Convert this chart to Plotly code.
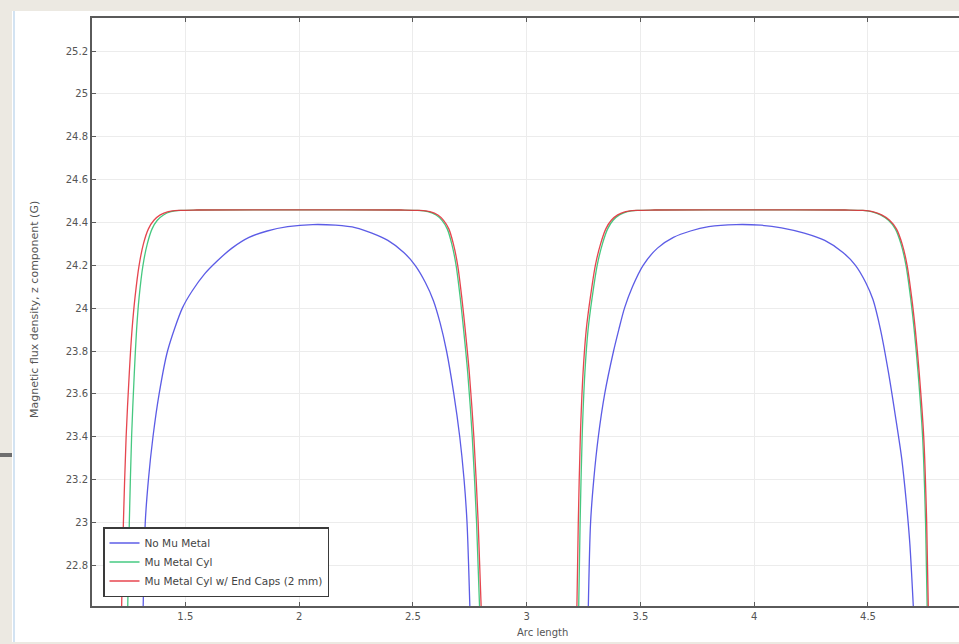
import plotly.graph_objects as go

# ---------------- data ----------------
series_names = ["No Mu Metal", "Mu Metal Cyl", "Mu Metal Cyl w/ End Caps (2 mm)"]
series_colors = ["rgb(75,75,228)", "rgb(50,195,115)", "rgb(228,50,60)"]

# No Mu Metal - hump 1 / hump 2
blue_x1 = [1.314, 1.324, 1.338, 1.358, 1.385, 1.422, 1.487, 1.530, 1.585, 1.640, 1.705, 1.780, 1.860, 1.950, 2.060, 2.160, 2.250, 2.320, 2.390, 2.460, 2.510, 2.555, 2.590, 2.620, 2.648, 2.680, 2.706, 2.725, 2.738, 2.752]
blue_y1 = [22.55, 23.0, 23.2, 23.4, 23.6, 23.8, 24.0, 24.08, 24.16, 24.22, 24.28, 24.33, 24.36, 24.38, 24.39, 24.387, 24.375, 24.35, 24.316, 24.26, 24.20, 24.12, 24.036, 23.93, 23.8, 23.6, 23.4, 23.2, 23.0, 22.55]
blue_x2 = [3.270, 3.281, 3.295, 3.315, 3.343, 3.382, 3.405, 3.430, 3.465, 3.512, 3.575, 3.645, 3.720, 3.800, 3.920, 4.030, 4.120, 4.220, 4.310, 4.390, 4.445, 4.490, 4.522, 4.555, 4.590, 4.620, 4.648, 4.668, 4.684, 4.702]
blue_y2 = [22.55, 23.0, 23.2, 23.4, 23.6, 23.8, 23.9, 24.0, 24.1, 24.2, 24.28, 24.33, 24.36, 24.38, 24.39, 24.387, 24.375, 24.35, 24.316, 24.26, 24.2, 24.12, 24.04, 23.9, 23.7, 23.5, 23.3, 23.1, 22.9, 22.55]

# Mu Metal Cyl
green_x1 = [1.246, 1.254, 1.264, 1.276, 1.286, 1.297, 1.314, 1.333, 1.354, 1.377, 1.404, 1.437, 1.480, 1.560, 2.000, 2.440, 2.520, 2.566, 2.602, 2.628, 2.651, 2.671, 2.690, 2.708, 2.723, 2.741, 2.761, 2.780, 2.795]
green_y1 = [22.55, 23.0, 23.4, 23.7, 23.9, 24.05, 24.2, 24.3, 24.37, 24.41, 24.435, 24.45, 24.456, 24.458, 24.459, 24.458, 24.456, 24.45, 24.435, 24.41, 24.37, 24.3, 24.2, 24.05, 23.9, 23.7, 23.4, 23.0, 22.55]
green_x2 = [3.228, 3.235, 3.244, 3.256, 3.270, 3.288, 3.310, 3.333, 3.356, 3.380, 3.408, 3.443, 3.488, 3.568, 4.000, 4.395, 4.475, 4.515, 4.555, 4.590, 4.620, 4.645, 4.667, 4.687, 4.703, 4.720, 4.740, 4.753, 4.761]
green_y2 = [22.55, 23.0, 23.4, 23.7, 23.9, 24.05, 24.2, 24.3, 24.37, 24.41, 24.435, 24.45, 24.456, 24.458, 24.459, 24.458, 24.456, 24.45, 24.435, 24.41, 24.37, 24.3, 24.2, 24.05, 23.9, 23.7, 23.4, 23.0, 22.55]

# Mu Metal Cyl w/ End Caps (2 mm)
red_x1 = [1.219, 1.228, 1.240, 1.254, 1.266, 1.279, 1.297, 1.316, 1.338, 1.362, 1.390, 1.425, 1.470, 1.550, 2.000, 2.450, 2.530, 2.575, 2.610, 2.635, 2.658, 2.678, 2.697, 2.715, 2.730, 2.748, 2.768, 2.787, 2.802]
red_y1 = [22.55, 23.0, 23.4, 23.7, 23.9, 24.05, 24.2, 24.3, 24.37, 24.41, 24.435, 24.45, 24.456, 24.458, 24.459, 24.458, 24.456, 24.45, 24.435, 24.41, 24.37, 24.3, 24.2, 24.05, 23.9, 23.7, 23.4, 23.0, 22.55]
red_x2 = [3.220, 3.227, 3.236, 3.248, 3.262, 3.280, 3.302, 3.325, 3.348, 3.372, 3.400, 3.435, 3.480, 3.560, 4.000, 4.400, 4.480, 4.520, 4.560, 4.595, 4.625, 4.650, 4.672, 4.692, 4.708, 4.725, 4.745, 4.758, 4.766]
red_y2 = [22.55, 23.0, 23.4, 23.7, 23.9, 24.05, 24.2, 24.3, 24.37, 24.41, 24.435, 24.45, 24.456, 24.458, 24.459, 24.458, 24.456, 24.45, 24.435, 24.41, 24.37, 24.3, 24.2, 24.05, 23.9, 23.7, 23.4, 23.0, 22.55]

x_tick_vals = [1.5, 2, 2.5, 3, 3.5, 4, 4.5]
x_tick_text = ["1.5", "2", "2.5", "3", "3.5", "4", "4.5"]
y_tick_vals = [22.8, 23.0, 23.2, 23.4, 23.6, 23.8, 24.0, 24.2, 24.4, 24.6, 24.8, 25.0, 25.2]
y_tick_text = ["22.8", "23", "23.2", "23.4", "23.6", "23.8", "24", "24.2", "24.4", "24.6", "24.8", "25", "25.2"]

x_title = "Arc length"
y_title = "Magnetic flux density, z component (G)"

# ---------------- figure ----------------
W, H = 959, 644
L, R, T, B = 92, 0, 18, 38
pw, ph = W - L - R, H - T - B

def px2paper_x(px):
    return (px - L) / pw

def px2paper_y(py):
    return (H - B - py) / ph

fig = go.Figure()
data = [
    (blue_x1 + [None] + blue_x2, blue_y1 + [None] + blue_y2),
    (green_x1 + [None] + green_x2, green_y1 + [None] + green_y2),
    (red_x1 + [None] + red_x2, red_y1 + [None] + red_y2),
]
for (xs, ys), name, col in zip(data, series_names, series_colors):
    fig.add_trace(go.Scatter(
        x=xs, y=ys, mode="lines", name=name,
        line=dict(color=col, width=1.3, shape="spline", smoothing=0.8),
        connectgaps=False, opacity=0.9,
    ))

axis_common = dict(
    showline=True, linecolor="#5a5a5a", linewidth=2,
    ticks="inside", ticklen=4, tickcolor="#5a5a5a", tickwidth=1,
    showgrid=True, gridcolor="#ececec", gridwidth=1, zeroline=False,
    tickfont=dict(family="DejaVu Sans", size=10, color="#555555"),
)

fig.update_layout(
    width=W, height=H,
    margin=dict(l=L, r=R, t=T, b=B, pad=0),
    paper_bgcolor="#ECE9E2",
    plot_bgcolor="white",
    showlegend=True,
    legend=dict(
        x=px2paper_x(103), y=px2paper_y(597), xanchor="left", yanchor="bottom",
        bgcolor="white", bordercolor="#3a3a3a", borderwidth=1.5,
        font=dict(family="DejaVu Sans", size=10.5, color="#444444"),
        tracegroupgap=0, itemwidth=30,
    ),
    xaxis=dict(range=[1.09, 4.90], tickvals=x_tick_vals, ticktext=x_tick_text,
               mirror="ticks", **axis_common),
    yaxis=dict(range=[22.61, 25.354], tickvals=y_tick_vals, ticktext=y_tick_text,
               mirror=False, **axis_common),
    shapes=[
        dict(type="rect", xref="paper", yref="paper", layer="below",
             x0=px2paper_x(12), x1=1.0, y0=px2paper_y(642), y1=px2paper_y(11),
             fillcolor="white", line=dict(width=0)),
        dict(type="line", xref="paper", yref="paper", layer="below",
             x0=px2paper_x(14), x1=px2paper_x(14), y0=px2paper_y(642), y1=px2paper_y(11),
             line=dict(color="#d3e3f2", width=2)),
        dict(type="line", xref="paper", yref="paper",
             x0=px2paper_x(0), x1=px2paper_x(12), y0=px2paper_y(455), y1=px2paper_y(455),
             line=dict(color="#6e6e6e", width=4)),
    ],
    annotations=[
        dict(text=x_title, xref="paper", yref="paper", showarrow=False,
             x=px2paper_x(542), y=px2paper_y(632), xanchor="center", yanchor="middle",
             font=dict(family="DejaVu Sans", size=10, color="#555555")),
        dict(text=y_title, xref="paper", yref="paper", showarrow=False, textangle=-90,
             x=px2paper_x(34), y=px2paper_y(310), xanchor="center", yanchor="middle",
             font=dict(family="DejaVu Sans", size=11, color="#555555")),
    ],
)

fig.write_html(
    "out.html",
    config={"displayModeBar": False},
    post_script="document.body.style.margin='0';document.body.style.overflow='hidden';",
)
